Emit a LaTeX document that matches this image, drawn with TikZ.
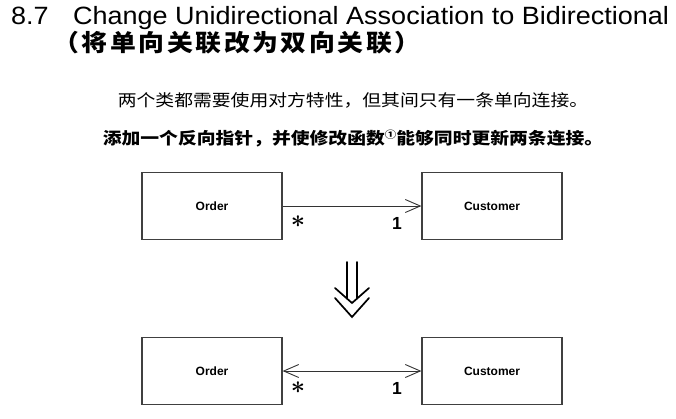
\documentclass[tikz,border=0pt]{standalone}
\usepackage{fontspec}
\setmainfont{Liberation Sans}
\newfontfamily\cjk{Noto Sans CJK SC}
\newfontfamily\cjkwide[LetterSpace=10]{Noto Sans CJK SC}
\usetikzlibrary{arrows.meta}
\begin{document}
\begin{tikzpicture}[x=1pt,y=-1pt,
    >={Straight Barb[length=15pt,width=13pt]},
    classbox/.style={draw=black!75, line width=1.2pt, minimum width=140pt, minimum height=67pt, inner sep=0pt, font=\bfseries\fontsize{12}{14}\selectfont},
    assoc/.style={draw=black!80, line width=0.9pt},
    mult/.style={inner sep=0pt, font=\bfseries\fontsize{17.5}{18}\selectfont},
    star/.style={inner sep=0pt, font=\boldmath\fontsize{33}{33}\selectfont},
    refarrow/.style={line width=1.7pt, line cap=round, line join=miter}]
    \useasboundingbox (0,0) rectangle (676,418);

    % Heading
    \node[anchor=base west, inner sep=0pt, xscale=1.08, font=\fontsize{25}{30}\selectfont] (title) at (11,24.5) {8.7\hspace{22.6pt}Change Unidirectional Association to Bidirectional};
    \node[anchor=base, inner sep=0pt, xscale=1.1, font=\cjkwide\bfseries\fontsize{23.5}{28}\selectfont] (subtitle) at (237,51.3) {（将单向关联改为双向关联）};

    % Problem and solution
    \node[anchor=base, inner sep=0pt, xscale=1.14, font=\cjk\fontsize{16.5}{20}\selectfont] (problem) at (353,106) {两个类都需要使用对方特性，但其间只有一条单向连接。};
    \node[anchor=base, inner sep=0pt, xscale=1.14, font=\cjk\bfseries\fontsize{16.5}{20}\selectfont] (solution) at (353,144) {添加一个反向指针，并使修改函数\raisebox{6pt}{\fontsize{10}{10}\selectfont ①}能够同时更新两条连接。};

    % Before: one-way link
    \node[classbox] (order1) at (212,206) {Order};
    \node[classbox] (customer1) at (492,206) {Customer};
    \draw[assoc,->] (order1) -- (customer1);
    \node[star] (many1) at (298,222) {$\ast$};
    \node[mult] (one1) at (397,223.5) {1};

    % Refactoring arrow
    \draw[refarrow] (347,262) -- (347,298.6) (357,262) -- (357,298.6);
    \draw[refarrow] (335,288) -- (352,303) -- (369,288);
    \draw[refarrow] (335,298) -- (352,317) -- (369,298);

    % After: two-way link
    \node[classbox] (order2) at (212,371) {Order};
    \node[classbox] (customer2) at (492,371) {Customer};
    \draw[assoc,<->] (order2) -- (customer2);
    \node[star] (many2) at (298,388) {$\ast$};
    \node[mult] (one2) at (397,388) {1};
\end{tikzpicture}
\end{document}
